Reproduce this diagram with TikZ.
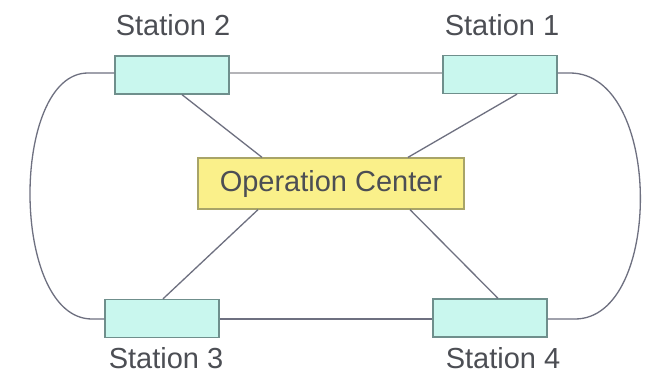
\documentclass[tikz,border=0pt]{standalone}
\usepackage{fontspec}
\setmainfont{Liberation Sans}
\definecolor{stfill}{HTML}{C9F7EE}
\definecolor{stdraw}{HTML}{6F8F8C}
\definecolor{ocfill}{HTML}{FAF08A}
\definecolor{ocdraw}{HTML}{A8A468}
\definecolor{txt}{HTML}{4C4E54}
\definecolor{wire}{HTML}{6E7080}
\definecolor{wirelight}{HTML}{B4B4B8}
\begin{document}
\begin{tikzpicture}[x=1pt,y=-1pt,
  station/.style={draw=stdraw,fill=stfill,line width=1.3pt,minimum width=114pt,minimum height=38pt,inner sep=0pt},
  center/.style={draw=ocdraw,fill=ocfill,line width=1.3pt,minimum width=266pt,minimum height=51pt,inner sep=0pt,text=txt,font=\fontsize{29}{32}\selectfont},
  lbl/.style={text=txt,font=\fontsize{29}{32}\selectfont,inner sep=0pt},
  wire/.style={draw=wire,line width=1.3pt},
  wirel/.style={draw=wirelight,line width=2pt}]
\useasboundingbox (0,0) rectangle (645,375);
\fill[white] (0,0) rectangle (645,375);
\coordinate (lt) at (88,73);
\coordinate (lb) at (92,319);
\coordinate (rt) at (570,73);
\coordinate (rb) at (575,319);
\node[station] (s2) at (172,75) {};
\node[station] (s1) at (500,74.5) {};
\node[station] (s3) at (162,318.5) {};
\node[station] (s4) at (490,318) {};
\node[center] (oc) at (331,183.5) {Operation Center};
\node[lbl] (l2) at (173,25) {Station 2};
\node[lbl] (l1) at (502,25) {Station 1};
\node[lbl] (l3) at (166,358) {Station 3};
\node[lbl] (l4) at (503,358) {Station 4};
% links
\draw[wirel] (s2.east |- 0,73) -- (s1.west |- 0,73);
\draw[wire] (s3.east |- 0,319) -- (s4.west |- 0,319);
\draw[wire] (s2.west |- 0,73) -- (lt) .. controls (10,73) and (10,319) .. (lb) -- (s3.west |- 0,319);
\draw[wire] (s1.east |- 0,73) -- (rt) .. controls (663,73) and (663,319) .. (rb) -- (s4.east |- 0,319);
\draw[wire] ([xshift=10pt]s2.south) -- ([xshift=-69pt]oc.north);
\draw[wire] ([xshift=17pt]s1.south) -- ([xshift=77pt]oc.north);
\draw[wire] ([xshift=1pt]s3.north) -- ([xshift=-73pt]oc.south);
\draw[wire] ([xshift=8pt]s4.north) -- ([xshift=79pt]oc.south);
\end{tikzpicture}
\end{document}
